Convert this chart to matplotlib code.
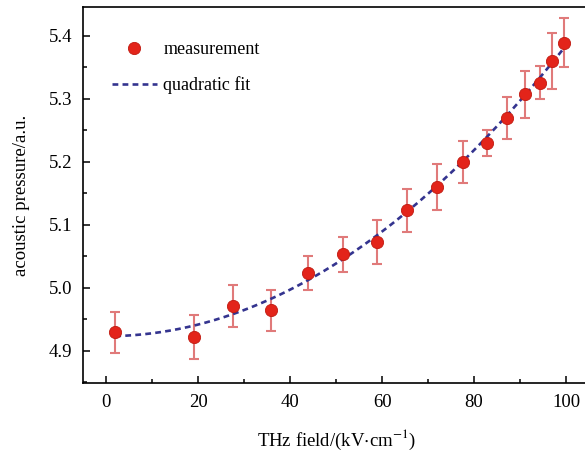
import numpy as np
import matplotlib
matplotlib.use("Agg")
from matplotlib import pyplot as plt
from matplotlib.ticker import MultipleLocator

field = [2.0, 19.2, 27.5, 35.9, 43.8, 51.4, 58.8, 65.5, 71.9, 77.6,
         82.8, 87.1, 91.1, 94.3, 96.9, 99.6]
pressure = [4.929, 4.921, 4.971, 4.964, 5.024, 5.053, 5.073, 5.123, 5.160, 5.200,
            5.230, 5.270, 5.307, 5.326, 5.360, 5.389]
err = [0.032, 0.035, 0.033, 0.032, 0.027, 0.028, 0.035, 0.034, 0.036, 0.033,
       0.021, 0.033, 0.038, 0.026, 0.044, 0.039]

# quadratic fit coefficients (a*x^2 + b*x + c)
fit_coef = [4.62e-5, 0.0, 4.923]
fit_range = (2.0, 100.0)

plt.rcParams['font.family'] = ['Liberation Serif', 'DejaVu Serif']
plt.rcParams['mathtext.fontset'] = 'stix'

fig = plt.figure(figsize=(5.85, 4.53), dpi=100)
ax = fig.add_axes([0.142, 0.155, 0.865, 0.829])

xf = np.linspace(fit_range[0], fit_range[1], 200)
ax.plot(xf, np.polyval(fit_coef, xf), linestyle=(0, (2.2, 1.6)), color='#34348f',
        lw=1.9, label='quadratic fit', zorder=2)

ax.errorbar(field, pressure, yerr=err, fmt='none', ecolor='#e07a7a', elinewidth=1.5,
            capsize=3.8, capthick=1.5, zorder=1)
ax.plot(field, pressure, 'o', ms=8.8, color='#e3241a', mec='#c01a10', mew=0.6,
        label='measurement', zorder=3)

ax.set_xlim(-5, 105)
ax.set_ylim(4.849, 5.4456)
ax.xaxis.set_major_locator(MultipleLocator(20))
ax.xaxis.set_minor_locator(MultipleLocator(10))
ax.yaxis.set_major_locator(MultipleLocator(0.1))
ax.yaxis.set_minor_locator(MultipleLocator(0.05))
ax.yaxis.set_major_formatter(matplotlib.ticker.FormatStrFormatter('%.1f'))
ax.tick_params(which='both', direction='in', top=False, right=False,
               labelsize=13.5, width=1.1)
ax.tick_params(which='major', length=5, pad=8)
ax.tick_params(which='minor', length=3)
for s in ax.spines.values():
    s.set_linewidth(1.2)

ax.set_xlabel('THz field/(kV$\\cdot$cm$^{-1}$)', fontsize=13.5, labelpad=12)
ax.set_ylabel('acoustic pressure/a.u.', fontsize=13.5, labelpad=13)

h, l = ax.get_legend_handles_labels()
ax.legend(h[::-1], l[::-1], loc='upper left', bbox_to_anchor=(0.057, 0.91),
          frameon=False, fontsize=13, handlelength=2.5, handletextpad=0.35,
          labelspacing=1.0, borderpad=0, borderaxespad=0)

fig.savefig('out.png', dpi=100)
